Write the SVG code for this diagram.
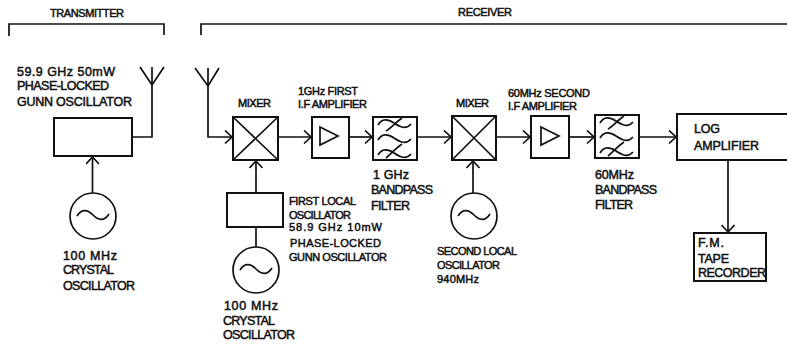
<svg xmlns="http://www.w3.org/2000/svg" xmlns:xlink="http://www.w3.org/1999/xlink" width="787" height="345" viewBox="0 0 787 345">
<style>
text{font-family:"Liberation Sans",Arial,sans-serif;font-size:12.5px;fill:#111;stroke:#111;stroke-width:.5px}
.s{font-size:11px}
.b{fill:#fff;stroke:#111;stroke-width:2}
.l{fill:none;stroke:#111;stroke-width:1.7}
</style>
<defs>
<marker id="a" markerUnits="userSpaceOnUse" markerWidth="14" markerHeight="16" refX="11" refY="7" orient="auto">
<path d="M4 0.500 L11 7 L4 13.500" fill="none" stroke="#111" stroke-width="1.7"/>
</marker>
<g id="filter">
<path class="l" d="M5 9 C9 2 15 3 21 7 S33 14 38 8 M13 15 C18 12 23 6 29 2"/>
<path class="l" d="M5 24 C9 17 15 18 21 22 S33 29 38 23"/>
<path class="l" d="M5 39 C9 32 15 33 21 37 S33 44 38 38 M13 42 C18 38 23 32 29 28"/>
</g>
<g id="osc"><circle class="l" r="23"/><path class="l" d="M-16 0 C-11 -8 -5 -6 0 -1 S11 6 16 -2"/></g>
</defs>

<g id="connectors">
<path class="l" d="M9 36 V24 H164 V35"/>
<path class="l" d="M201 35 V24 H787"/>
<path class="l" d="M132 137 H152 V67 M140 67 L152 85 L164 67"/>
<path class="l" d="M208 68 V137 H232" marker-end="url(#a)"/>
<path class="l" d="M195 68 L208 86 L219 68"/>
<path class="l" d="M92.500 193 V157" marker-end="url(#a)"/>
<path class="l" d="M278 137 H311" marker-end="url(#a)"/>
<path class="l" d="M349 137 H372" marker-end="url(#a)"/>
<path class="l" d="M417 137 H451" marker-end="url(#a)"/>
<path class="l" d="M496 137 H530" marker-end="url(#a)"/>
<path class="l" d="M569 137 H594" marker-end="url(#a)"/>
<path class="l" d="M639 137 H676" marker-end="url(#a)"/>
<path class="l" d="M256 193 V161" marker-end="url(#a)"/>
<path class="l" d="M256 227 V247"/>
<path class="l" d="M473 193 V161" marker-end="url(#a)"/>
<path class="l" d="M728 160 V232" marker-end="url(#a)"/>
</g>

<g id="labels-sections">
<text class="s" x="50" y="17" textLength="74">TRANSMITTER</text>
<text class="s" x="458" y="16" textLength="54">RECEIVER</text>
</g>

<g id="gunn-tx">
<rect class="b" x="54" y="118" width="78" height="38"/>
<text x="17" y="76" textLength="98">59.9 GHz 50mW</text>
<text x="17" y="90" textLength="92">PHASE-LOCKED</text>
<text x="17" y="106" textLength="115">GUNN OSCILLATOR</text>
</g>
<g id="crystal-tx">
<use xlink:href="#osc" href="#osc" x="93" y="216"/>
<text x="63" y="260" textLength="54">100 MHz</text>
<text x="63" y="274" textLength="51">CRYSTAL</text>
<text x="63" y="290" textLength="72">OSCILLATOR</text>
</g>
<g id="mixer1">
<rect class="b" x="233" y="117" width="45" height="43"/>
<path class="l" d="M233 117 L278 160 M278 117 L233 160"/>
<text class="s" x="238" y="107" textLength="33">MIXER</text>
</g>
<g id="amp1">
<rect class="b" x="312" y="117" width="37" height="41"/>
<path class="l" d="M320 127 L338 136 L320 145 Z"/>
<text class="s" x="298" y="95" textLength="60">1GHz FIRST</text>
<text class="s" x="298" y="108" textLength="69">I.F AMPLIFIER</text>
</g>
<g id="filter1">
<rect class="b" x="373" y="117" width="44" height="43"/>
<use xlink:href="#filter" href="#filter" x="373" y="116"/>
<text x="373" y="179" textLength="36">1 GHz</text>
<text x="371" y="194" textLength="62">BANDPASS</text>
<text x="371" y="210" textLength="39">FILTER</text>
</g>
<g id="mixer2">
<rect class="b" x="452" y="116" width="44" height="44"/>
<path class="l" d="M452 116 L496 160 M496 116 L452 160"/>
<text class="s" x="456" y="107" textLength="33">MIXER</text>
</g>
<g id="amp2">
<rect class="b" x="531" y="116" width="38" height="42"/>
<path class="l" d="M541 127 L559 136 L541 145 Z"/>
<text class="s" x="508" y="97" textLength="82">60MHz SECOND</text>
<text class="s" x="508" y="110" textLength="69">I.F AMPLIFIER</text>
</g>
<g id="filter2">
<rect class="b" x="595" y="115" width="44" height="43"/>
<use xlink:href="#filter" href="#filter" x="595" y="114"/>
<text x="595" y="179" textLength="39">60MHz</text>
<text x="595" y="194" textLength="62">BANDPASS</text>
<text x="595" y="209" textLength="38">FILTER</text>
</g>
<g id="log-amp">
<path class="b" d="M788 114 H677 V160 H788"/>
<text x="694" y="133" textLength="26">LOG</text>
<text x="694" y="150" textLength="65">AMPLIFIER</text>
</g>
<g id="tape">
<rect class="b" x="694" y="233" width="72" height="48"/>
<text x="698" y="247" textLength="26">F.M.</text>
<text x="698" y="263" textLength="31">TAPE</text>
<text x="698" y="277" textLength="68">RECORDER</text>
</g>
<g id="first-lo">
<rect class="b" x="227" y="193" width="56" height="34"/>
<text class="s" x="289" y="205" textLength="67">FIRST LOCAL</text>
<text class="s" x="289" y="219" textLength="62">OSCILLATOR</text>
<text class="s" x="289" y="231" textLength="93">58.9 GHz 10mW</text>
<text class="s" x="290" y="247" textLength="91">PHASE-LOCKED</text>
<text class="s" x="289" y="261" textLength="98">GUNN OSCILLATOR</text>
</g>
<g id="crystal-rx">
<use xlink:href="#osc" href="#osc" x="256" y="270"/>
<text x="224" y="310" textLength="54">100 MHz</text>
<text x="223" y="325" textLength="52">CRYSTAL</text>
<text x="223" y="339" textLength="72">OSCILLATOR</text>
</g>
<g id="second-lo">
<use xlink:href="#osc" href="#osc" x="474" y="216"/>
<text class="s" x="437" y="255" textLength="80">SECOND LOCAL</text>
<text class="s" x="437" y="269" textLength="63">OSCILLATOR</text>
<text class="s" x="437" y="283" textLength="42">940MHz</text>
</g>
</svg>
